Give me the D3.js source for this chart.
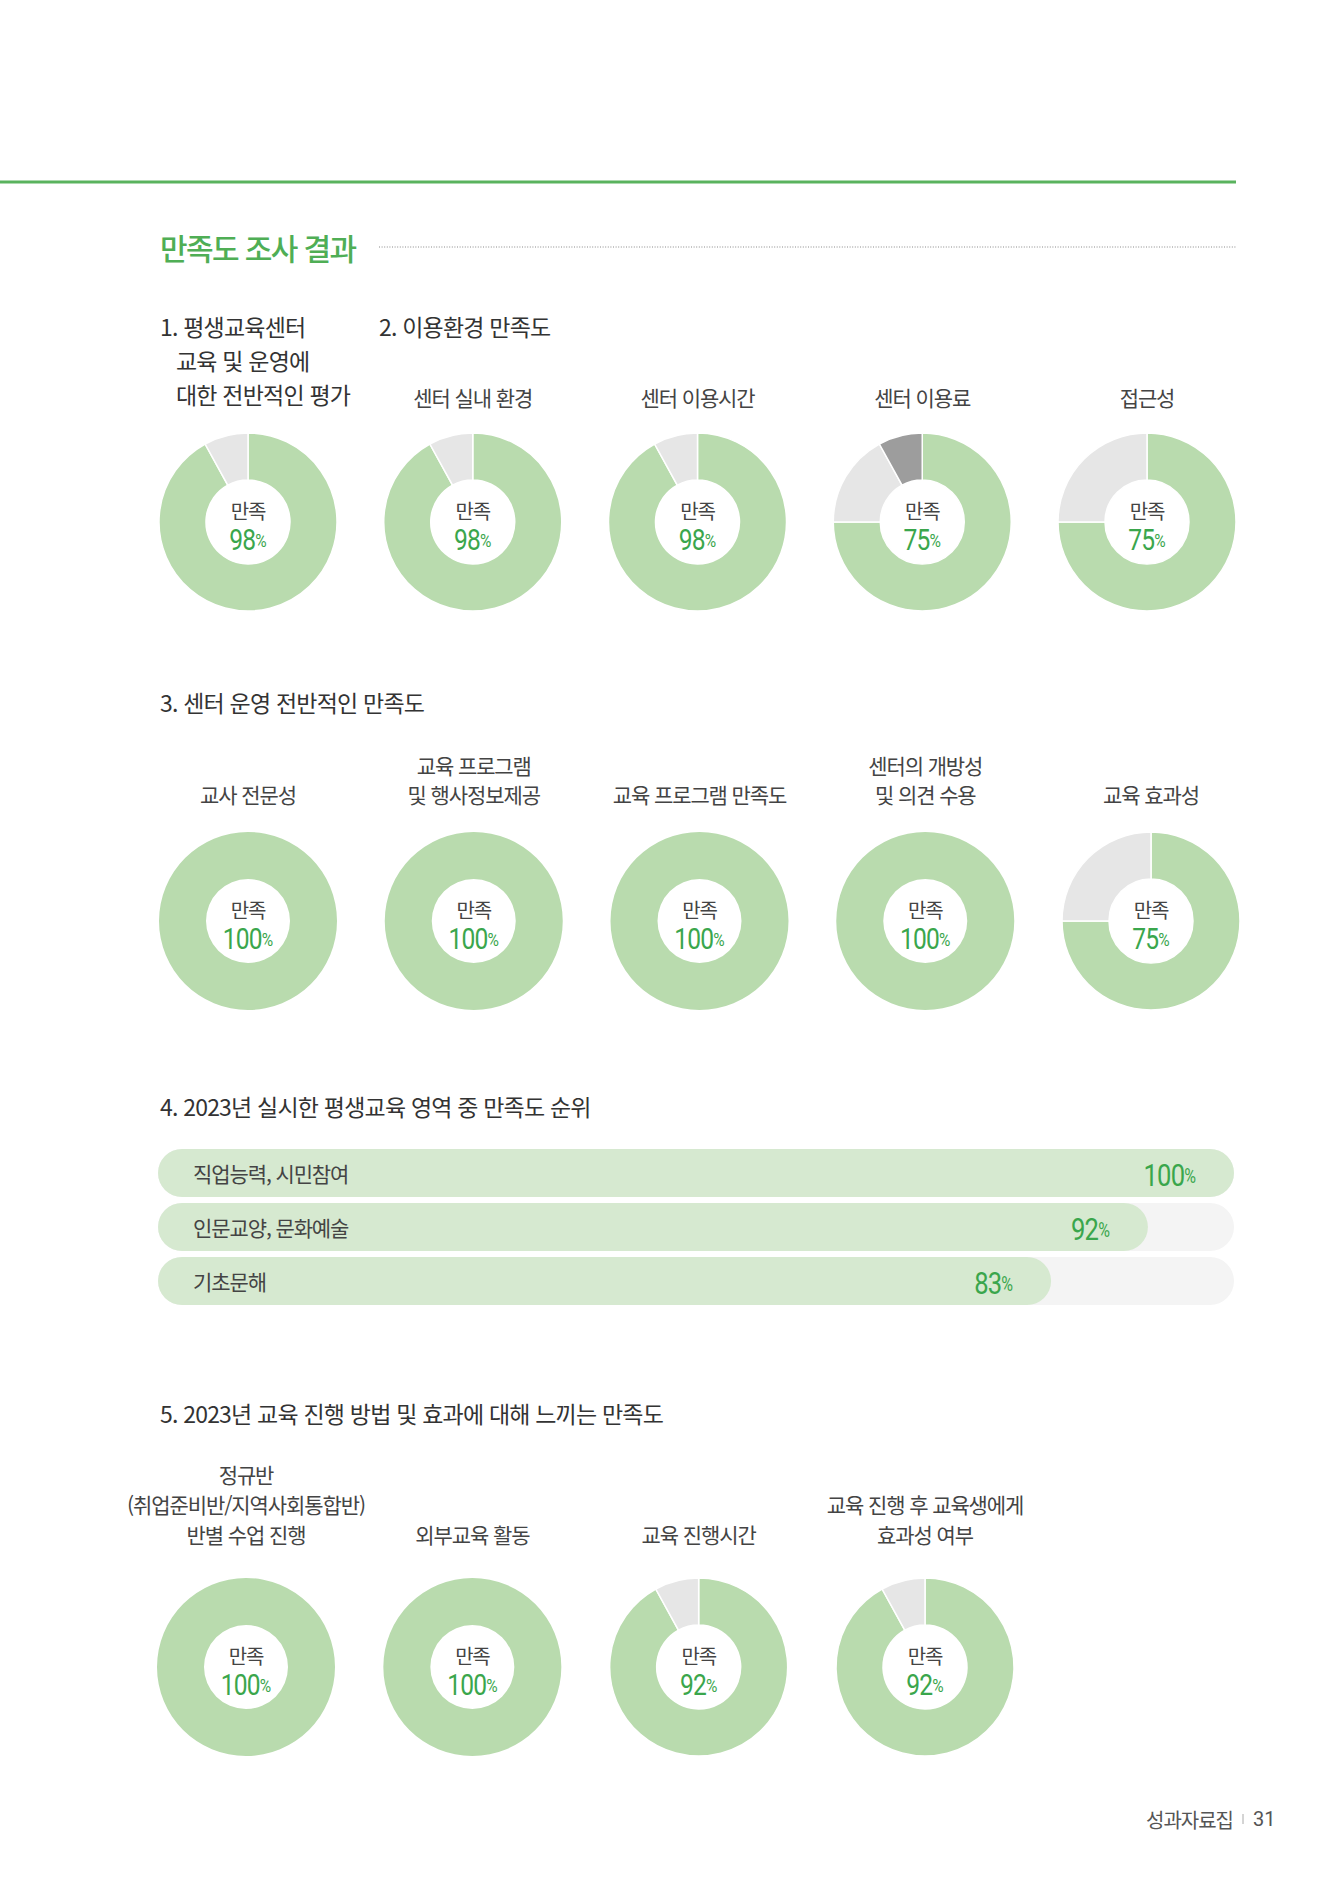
<!DOCTYPE html>
<html lang="ko">
<head>
<meta charset="utf-8">
<script src="https://cdn.jsdelivr.net/npm/d3@7"></script>
<style>
  html, body { margin: 0; padding: 0; background: #fff; }
  svg { display: block; }
  .kr { font-family: "Noto Sans CJK KR", "Noto Sans", sans-serif; }
  .num { font-family: Roboto, "Noto Sans", sans-serif; }
</style>
</head>
<body>
<script>
// ---------- DATA ----------
const pageTitle = "만족도 조사 결과";

const section1Title = ["1. 평생교육센터", "교육 및 운영에", "대한 전반적인 평가"];
const section2Title = "2. 이용환경 만족도";
const section3Title = "3. 센터 운영 전반적인 만족도";
const section4Title = "4. 2023년 실시한 평생교육 영역 중 만족도 순위";
const section5Title = "5. 2023년 교육 진행 방법 및 효과에 대해 느끼는 만족도";

// Row 1: overall + environment
const row1Labels = [[], ["센터 실내 환경"], ["센터 이용시간"], ["센터 이용료"], ["접근성"]];
const row1Pct = [98, 98, 98, 75, 75];
// drawn shares: [satisfied, neutral, dissatisfied]
const row1Shares = [[92, 8, 0], [92, 8, 0], [92, 8, 0], [75, 17, 8], [75, 25, 0]];

// Row 3: operation
const row3Labels = [["교사 전문성"], ["교육 프로그램", "및 행사정보제공"], ["교육 프로그램 만족도"], ["센터의 개방성", "및 의견 수용"], ["교육 효과성"]];
const row3Pct = [100, 100, 100, 100, 75];
const row3Shares = [[100, 0, 0], [100, 0, 0], [100, 0, 0], [100, 0, 0], [75, 25, 0]];

// Section 4 bars
const areaNames = ["직업능력, 시민참여", "인문교양, 문화예술", "기초문해"];
const areaPct = [100, 92, 83];

// Row 5: method
const row5Labels = [["정규반", "(취업준비반/지역사회통합반)", "반별 수업 진행"], ["외부교육 활동"], ["교육 진행시간"], ["교육 진행 후 교육생에게", "효과성 여부"]];
const row5Pct = [100, 100, 92, 92];
const row5Shares = [[100, 0, 0], [100, 0, 0], [92, 8, 0], [92, 8, 0]];

const centerWord = "만족";
const footerText = "성과자료집";
const pageNumber = "31";

// ---------- STYLE ----------
const W = 1338, H = 1889;
const GREEN_DARK = "#3aa64c";
const GREEN_LINE = "#5ab35e";
const SLICE_COLORS = ["#b9dbae", "#e6e6e6", "#9d9d9d"];
const TEXT = "#444";

const svg = d3.select("body").append("svg")
  .attr("width", W).attr("height", H)
  .attr("viewBox", `0 0 ${W} ${H}`);

// top green rule
svg.append("line").attr("x1", 0).attr("x2", 1236).attr("y1", 182).attr("y2", 182)
  .attr("stroke", GREEN_LINE).attr("stroke-width", 3);

// page title
svg.append("text").attr("class", "kr")
  .attr("x", 160).attr("y", 247).attr("dominant-baseline", "central")
  .attr("font-size", 30).attr("font-weight", 500).attr("letter-spacing", -1.6)
  .attr("fill", "#4fae55").text(pageTitle);
svg.append("line").attr("x1", 379).attr("x2", 1236).attr("y1", 247).attr("y2", 247)
  .attr("stroke", "#8a8a8a").attr("stroke-width", 1).attr("stroke-dasharray", "1,1.6");

function heading(x, y, t) {
  svg.append("text").attr("class", "kr")
    .attr("x", x).attr("y", y).attr("dominant-baseline", "central")
    .attr("font-size", 23).attr("letter-spacing", -0.8).attr("fill", "#333").text(t);
}

// section 1 title (multi-line)
section1Title.forEach((t, i) => heading(i === 0 ? 160 : 176, 326 + i * 34, t));
heading(379, 326, section2Title);
heading(160, 702, section3Title);
heading(160, 1106, section4Title);
heading(160, 1413, section5Title);

const arc = d3.arc().innerRadius(42).outerRadius(89);
const pie = d3.pie().sort(null).value(d => d);

function donutRow(labels, pcts, shares, xRange, cy, labelBottomY, lineGap) {
  const x = d3.scalePoint().domain(d3.range(pcts.length)).range(xRange);
  pcts.forEach((p, i) => {
    const g = svg.append("g").attr("transform", `translate(${x(i)},${cy})`);
    g.selectAll("path").data(pie(shares[i]).filter(d => d.data > 0)).join("path")
      .attr("d", arc)
      .attr("fill", d => SLICE_COLORS[d.index])
      .attr("stroke", "#fff")
      .attr("stroke-width", shares[i].filter(v => v > 0).length > 1 ? 1.5 : 0);
    g.append("text").attr("class", "kr")
      .attr("x", 0).attr("y", -12).attr("text-anchor", "middle").attr("dominant-baseline", "central")
      .attr("font-size", 20).attr("letter-spacing", -1.2).attr("fill", TEXT).text(centerWord);
    const nt = g.append("text").attr("class", "num")
      .attr("transform", "translate(0,18) scale(0.82,1)")
      .attr("text-anchor", "middle").attr("dominant-baseline", "central")
      .attr("fill", GREEN_DARK);
    nt.append("tspan").attr("font-size", 30).attr("letter-spacing", -1).text(p);
    nt.append("tspan").attr("font-size", 19).text("%");
    const lines = labels[i];
    lines.forEach((t, j) => {
      svg.append("text").attr("class", "kr")
        .attr("x", x(i)).attr("y", labelBottomY - (lines.length - 1 - j) * lineGap)
        .attr("text-anchor", "middle").attr("dominant-baseline", "central")
        .attr("font-size", 21).attr("letter-spacing", -1.1).attr("fill", TEXT).text(t);
    });
  });
}

donutRow(row1Labels, row1Pct, row1Shares, [248, 1147], 522, 397, 30);
donutRow(row3Labels, row3Pct, row3Shares, [248, 1151], 921, 794, 29);
donutRow(row5Labels, row5Pct, row5Shares, [246, 925], 1667, 1534, 30);

// ---------- Section 4 bars ----------
const bx = d3.scaleLinear().domain([0, 100]).range([158, 1234]);
const by = d3.scaleBand().domain(areaNames).range([1149, 1305]).paddingInner(6 / 54).paddingOuter(0);
const bh = by.bandwidth();
const bars = svg.append("g");
areaNames.forEach((n, i) => {
  const y = by(n);
  bars.append("rect").attr("x", bx(0)).attr("y", y).attr("width", bx(100) - bx(0)).attr("height", bh)
    .attr("rx", bh / 2).attr("fill", "#f4f4f4");
  bars.append("rect").attr("x", bx(0)).attr("y", y).attr("width", bx(areaPct[i]) - bx(0)).attr("height", bh)
    .attr("rx", bh / 2).attr("fill", "#d6e9d0");
  bars.append("text").attr("class", "kr")
    .attr("x", bx(0) + 35).attr("y", y + bh / 2).attr("dominant-baseline", "central")
    .attr("font-size", 21).attr("letter-spacing", -1.1).attr("fill", TEXT).text(n);
  const vt = bars.append("text").attr("class", "num")
    .attr("transform", `translate(${bx(areaPct[i]) - 38},${y + bh / 2 + 2}) scale(0.8,1)`)
    .attr("text-anchor", "end").attr("dominant-baseline", "central").attr("fill", GREEN_DARK);
  vt.append("tspan").attr("font-size", 32).attr("letter-spacing", -1).text(areaPct[i]);
  vt.append("tspan").attr("font-size", 20).text("%");
});

// ---------- footer ----------
svg.append("text").attr("class", "kr")
  .attr("x", 1233).attr("y", 1819).attr("text-anchor", "end").attr("dominant-baseline", "central")
  .attr("font-size", 20).attr("letter-spacing", -1).attr("fill", "#555").text(footerText);
svg.append("line").attr("x1", 1243).attr("x2", 1243).attr("y1", 1814).attr("y2", 1824)
  .attr("stroke", "#aaa").attr("stroke-width", 1);
svg.append("text").attr("class", "num")
  .attr("x", 1253).attr("y", 1819).attr("dominant-baseline", "central")
  .attr("font-size", 20).attr("fill", "#555").text(pageNumber);
</script>
</body>
</html>
